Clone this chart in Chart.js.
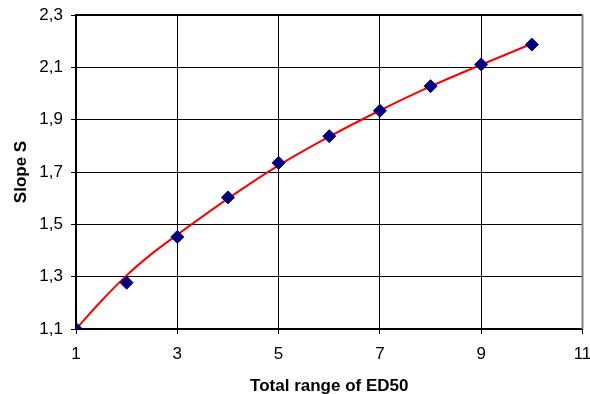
<!DOCTYPE html>
<html>
<head>
<meta charset="utf-8">
<script src="https://cdn.jsdelivr.net/npm/chart.js@4"></script>
<style>
  html, body { margin: 0; padding: 0; background: #fff; }
</style>
</head>
<body>
<canvas id="myChart" width="590" height="394"></canvas>
<script>
// measured points (diamonds)
const rangeX = [1, 2, 3, 4, 5, 6, 7, 8, 9, 10];
const slopeS = [1.10, 1.277, 1.452, 1.603, 1.735, 1.837, 1.934, 2.028, 2.111, 2.187];

// red fitted curve
const curveX = [1, 1.5, 2, 2.5, 3, 4, 5, 6, 7, 8, 9, 10];
const curveY = [1.10, 1.207, 1.305, 1.388, 1.46, 1.598, 1.725, 1.835, 1.935, 2.027, 2.11, 2.19];

// tick labels
const xTicks = [1, 3, 5, 7, 9, 11];
const yTicks = [1.1, 1.3, 1.5, 1.7, 1.9, 2.1, 2.3];

Chart.defaults.font.family = "'Liberation Sans', Arial, sans-serif";
Chart.defaults.color = "#000";

// top and right frame of the plot area
const frame = {
  id: "frame",
  afterDraw(chart) {
    const { ctx, chartArea: a } = chart;
    ctx.save();
    ctx.lineWidth = 2;
    ctx.strokeStyle = "#000";
    ctx.beginPath();
    ctx.moveTo(a.left - 1, a.top);
    ctx.lineTo(a.right, a.top);
    ctx.stroke();
    ctx.strokeStyle = "#808080";
    ctx.beginPath();
    ctx.moveTo(a.right, a.top);
    ctx.lineTo(a.right, a.bottom);
    ctx.stroke();
    ctx.restore();
  },
};

const ctx = document.getElementById("myChart").getContext("2d");

new Chart(ctx, {
  type: "scatter",
  data: {
    datasets: [
      {
        label: "Slope S",
        data: rangeX.map((x, i) => ({ x: x, y: slopeS[i] })),
        pointStyle: "rectRot",
        pointRadius: 6.5,
        pointBackgroundColor: "#000080",
        pointBorderColor: "#000080",
        pointBorderWidth: 1,
        showLine: false,
      },
      {
        label: "fit",
        data: curveX.map((x, i) => ({ x: x, y: curveY[i] })),
        showLine: true,
        borderColor: "#ff0000",
        borderWidth: 2,
        pointRadius: 0,
        cubicInterpolationMode: "monotone",
      },
    ],
  },
  options: {
    responsive: false,
    animation: false,
    layout: { padding: { top: 15, right: 7, left: 0, bottom: 0 } },
    plugins: {
      legend: { display: false },
      tooltip: { enabled: false },
    },
    scales: {
      x: {
        type: "linear",
        min: 1,
        max: 11,
        afterBuildTicks: (scale) => {
          scale.ticks = xTicks.map((v) => ({ value: v }));
        },
        afterFit: (scale) => {
          scale.height = 65;
          scale.paddingLeft = 0;
          scale.paddingRight = 0;
        },
        grid: { color: "#000", lineWidth: 1, tickLength: 5 },
        border: { color: "#000", width: 2 },
        ticks: {
          font: { size: 17 },
          padding: 10,
          maxRotation: 0,
        },
        title: {
          display: true,
          text: "Total range of ED50",
          font: { size: 17, weight: "bold" },
          padding: { top: 0, bottom: -3 },
        },
      },
      y: {
        type: "linear",
        min: 1.1,
        max: 2.3,
        afterBuildTicks: (scale) => {
          scale.ticks = yTicks.map((v) => ({ value: v }));
        },
        afterFit: (scale) => {
          scale.width = 76;
          scale.paddingTop = 0;
          scale.paddingBottom = 0;
        },
        grid: { color: "#000", lineWidth: 1, tickLength: 5 },
        border: { color: "#000", width: 2 },
        ticks: {
          font: { size: 17 },
          padding: 8,
          callback: (v) => v.toFixed(1).replace(".", ","),
        },
        title: {
          display: true,
          text: "Slope S",
          font: { size: 17, weight: "bold" },
          padding: { top: 11, bottom: 0 },
        },
      },
    },
  },
  plugins: [frame],
});
</script>
</body>
</html>
